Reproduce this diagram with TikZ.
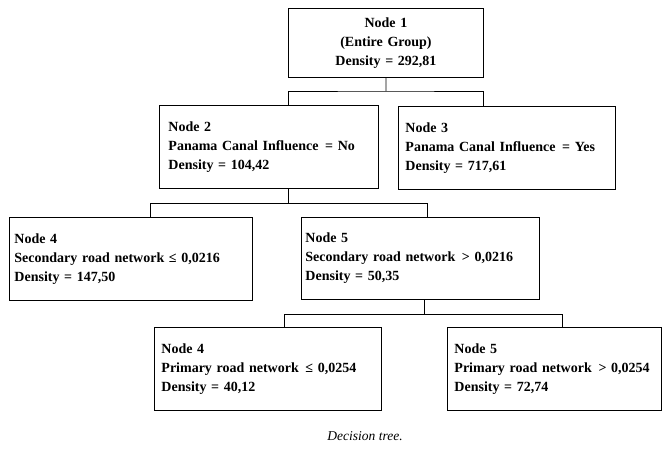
\documentclass[tikz,border=0pt]{standalone}
\usepackage{fontspec}
\setmainfont{Liberation Serif}
\newcommand{\wsp}{\ \kern2pt}
\begin{document}
\begin{tikzpicture}[x=1pt,y=-1pt,
  treebox/.style={draw, line width=0.9pt, anchor=north west, inner xsep=7pt, inner ysep=0pt,
    align=left, font=\fontsize{14}{19}\selectfont\bfseries},
  link/.style={line width=0.9pt}]
\useasboundingbox (0,0) rectangle (664,459);
\node[treebox, align=center, text width=181pt, minimum height=69pt] (n1) at (288,8)
  {Node 1\\(Entire Group)\\Density = 292,81};
\node[treebox, text width=205pt, minimum height=83pt, inner xsep=9pt, text width=201pt] (n2) at (159,105)
  {Node 2\\Panama Canal Influence\wsp= No\\Density = 104,42};
\node[treebox, text width=203pt, minimum height=83pt] (n3) at (398,106)
  {Node 3\\Panama Canal Influence\wsp= Yes\\Density = 717,61};
\node[treebox, text width=229pt, minimum height=83pt, inner xsep=5pt, text width=233pt] (n4) at (9,217)
  {Node 4\\Secondary road network ≤ 0,0216\\Density = 147,50};
\node[treebox, minimum height=82pt, inner xsep=4pt, text width=230pt] (n5) at (301,217)
  {Node 5\\Secondary road network\wsp> 0,0216\\Density = 50,35};
\node[treebox, text width=213pt, minimum height=83pt] (n6) at (154,327)
  {Node 4\\Primary road network\wsp≤ 0,0254\\Density = 40,12};
\node[treebox, text width=200pt, minimum height=83pt] (n7) at (447,327)
  {Node 5\\Primary road network\wsp> 0,0254\\Density = 72,74};
\node[font=\fontsize{13.5}{16}\selectfont\itshape, anchor=base] (cap) at (365,440) {Decision tree.};
% connectors
\coordinate (j1) at (386,91);
\draw[link] (n1.south) -- (j1);
\draw[link] (n2.north -| n1.west) |- (j1) -| (n3.north -| n1.east);
\coordinate (j2) at (288,203);
\coordinate (d4) at (150,203);
\coordinate (d5) at (427,203);
\draw[link] (n2.south -| j2) -- (j2);
\draw[link] (n4.north -| d4) -- (d4) -- (d5) -- (n5.north -| d5);
\coordinate (j3) at (424,314);
\coordinate (d6) at (284,314);
\coordinate (d7) at (562,314);
\draw[link] (n5.south -| j3) -- (j3);
\draw[link] (n6.north -| d6) -- (d6) -- (d7) -- (n7.north -| d7);
\end{tikzpicture}
\end{document}
